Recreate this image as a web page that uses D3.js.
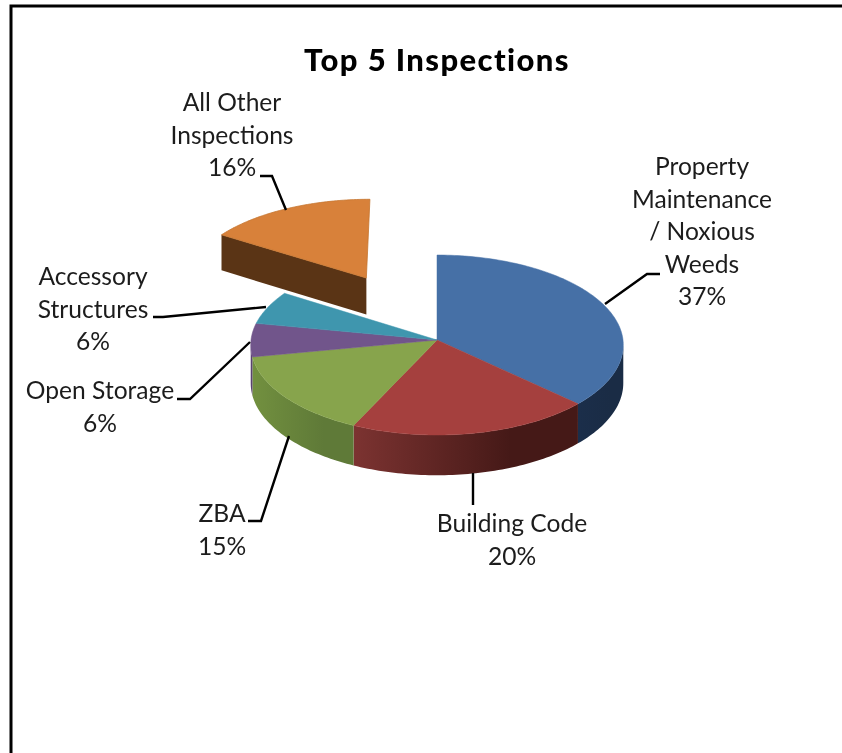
<!DOCTYPE HTML>
<html>
  <head>
    <meta charset='utf-8'>
    <title>Top 5 Inspections</title>
    <script src='https://d3js.org/d3.v7.min.js'></script>
    <style>
      html,body {margin:0; background:#fff;}
      svg {display:block; filter:blur(.45px);}
      text {font-family:Lato,'Open Sans',sans-serif; fill:#1c1c1c;}
    </style>
  </head>
  <body>
  <svg id='chart' width='842' height='753'></svg>
  <script>
// values, clockwise from 12 o'clock
var categories=['Property Maintenance / Noxious Weeds','Building Code','ZBA',
                'Open Storage','Accessory Structures','All Other Inspections'];
var shares=[37,20,15,6,6,16];
var exploded=['All Other Inspections'];
var topColors=['#4670a6','#a5403e','#87a44c','#71558b','#3f96ae','#d8813a'];
var wallFrom=['#1b2e4a','#7c3331','#72903f','#5a4270','#2f7488','#5a3415'];
var wallTo=['#1a2c45','#451917','#5f7a38','#5a4270','#2f7488','#5a3415'];

var svg=d3.select('#chart');
var cx=437,cy=340,rx=186,ry=89.7,persp=.0556,depth=38,explode=.82;

// tilted disc with a little perspective: v is away from the viewer
function project(u,v,drop){
  var s=1/(1+persp*v);
  return [cx+rx*u*s,cy-ry*v*s+(drop?depth*s:0)];
}
function onDisc(a,off,drop){
  return project(off[0]+Math.sin(a),off[1]+Math.cos(a),drop);
}
function arcPoints(a0,a1,off,drop){
  var n=Math.max(2,Math.ceil(Math.abs(a1-a0)/.02));
  return d3.range(n+1).map(function(i){return onDisc(a0+(a1-a0)*i/n,off,drop);});
}
var line=d3.line();

var slices=d3.pie().sort(null).value(function(d){return d;})(shares);
slices.forEach(function(d){
  d.name=categories[d.index];
  var mid=(d.startAngle+d.endAngle)/2;
  d.off=exploded.indexOf(d.name)>=0?[explode*Math.sin(mid),explode*Math.cos(mid)]:[0,0];
});

// frame of the pasted chart
svg.append('path').attr('d','M11,753V6H842').attr('fill','none')
   .attr('stroke','#000').attr('stroke-width',3);

svg.append('text').attr('x',437).attr('y',71).attr('text-anchor','middle')
   .attr('font-size',31).attr('font-weight',900).attr('letter-spacing',1.4)
   .style('fill','#000').text('Top 5 Inspections');

var defs=svg.append('defs');
slices.forEach(function(d,i){
  var g=defs.append('linearGradient').attr('id','wall'+i);
  g.append('stop').attr('offset','0%').attr('stop-color',wallFrom[i]);
  g.append('stop').attr('offset','70%').attr('stop-color',wallTo[i]);
});

// outer walls only where they turn towards the viewer
var visFrom=Math.acos(-persp),visTo=2*Math.PI-visFrom;
var whole=slices.filter(function(d){return d.off[0]===0;});
svg.append('g').selectAll('path').data(whole.filter(function(d){
    return d.endAngle>visFrom&&d.startAngle<visTo;}))
  .enter().append('path')
  .attr('fill',function(d){return 'url(#wall'+d.index+')';})
  .attr('d',function(d){
    var a0=Math.max(d.startAngle,visFrom),a1=Math.min(d.endAngle,visTo);
    return line(arcPoints(a0,a1,d.off,false).concat(arcPoints(a1,a0,d.off,true)))+'Z';
  });

function wedge(d){
  var apex=project(d.off[0],d.off[1],false);
  return line([apex].concat(arcPoints(d.startAngle,d.endAngle,d.off,false)))+'Z';
}
svg.append('g').selectAll('path').data(whole).enter().append('path')
   .attr('fill',function(d){return topColors[d.index];})
   .attr('stroke',function(d){return topColors[d.index];}).attr('stroke-width',.5)
   .attr('d',wedge);

// pulled out slice: front cut face, then the top
var out=slices.filter(function(d){return d.off[0]!==0;});
var outG=svg.append('g');
out.forEach(function(d){
  var a=project(d.off[0],d.off[1],false),b=project(d.off[0],d.off[1],true),
      c=onDisc(d.startAngle,d.off,false),e=onDisc(d.startAngle,d.off,true);
  outG.append('path').attr('fill',wallFrom[d.index]).attr('d',line([c,a,b,e])+'Z');
  outG.append('path').attr('fill',topColors[d.index]).attr('stroke','#c5752f')
      .attr('stroke-width',.8).attr('d',wedge(d));
});

// leader lines and labels, same order as the categories
var leaders=[[[605,304],[647,274],[660,274]],[[473,473],[473,505]],[[289,436],[261,521],[248,521]],
             [[250,342],[190,399],[177,399]],[[266,307],[163,317],[153,317]],[[286,210],[272,176],[260,176]]];
var labelLines=[['Property','Maintenance','/ Noxious','Weeds','37%'],['Building Code','20%'],['ZBA','15%'],
                ['Open Storage','6%'],['Accessory','Structures','6%'],['All Other','Inspections','16%']];
var labelX=[702,512,222,100,93,232],labelY=[175,532,522,399,285,111];

svg.append('g').selectAll('path').data(leaders).enter().append('path')
   .attr('fill','none').attr('stroke','#000').attr('stroke-width',2.4)
   .attr('d',function(d){return line(d);});

labelLines.forEach(function(rows,i){
  svg.append('g').selectAll('text').data(rows).enter().append('text')
     .attr('x',labelX[i]).attr('y',function(d,j){return labelY[i]+j*32.6;})
     .attr('text-anchor','middle').attr('font-size',24.6).text(function(d){return d;});
});
  </script>
  </body>
</html>
